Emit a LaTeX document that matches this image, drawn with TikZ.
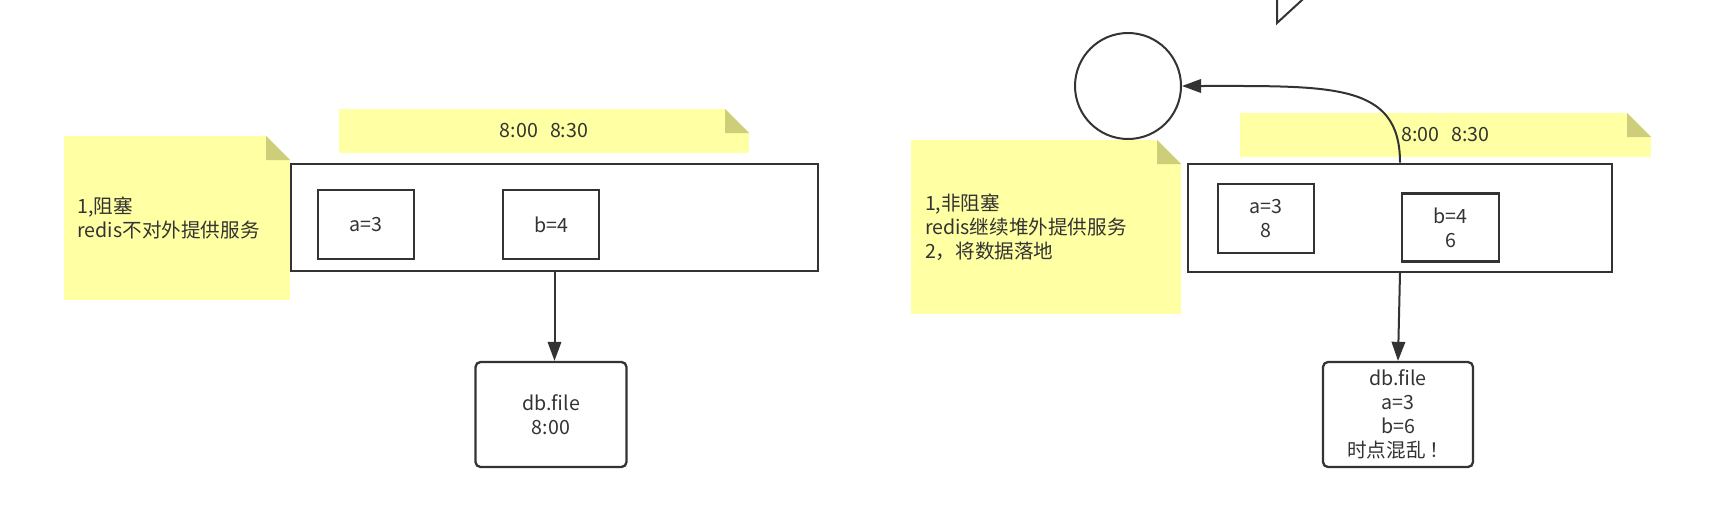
\documentclass[tikz,border=0pt]{standalone}
\usepackage{fontspec}
\setmainfont{Noto Sans CJK SC}
\usetikzlibrary{arrows.meta}
\definecolor{notey}{RGB}{255,255,163}
\definecolor{foldc}{RGB}{206,206,122}
\definecolor{ink}{RGB}{51,51,51}
\begin{document}
\begin{tikzpicture}[x=1pt,y=-1pt,
  every node/.style={font=\fontsize{19.6}{23.8}\selectfont, text=ink},
  note/.style={fill=notey, draw=none, inner sep=0pt,
    path picture={
      \fill[white] ([xshift=-24pt]path picture bounding box.north east) -- (path picture bounding box.north east) -- ([yshift=-24pt]path picture bounding box.north east) -- cycle;
      \fill[foldc] ([xshift=-24pt]path picture bounding box.north east) -- ([xshift=-24pt,yshift=-24pt]path picture bounding box.north east) -- ([yshift=-24pt]path picture bounding box.north east) -- cycle;
    }},
  sidenote/.style={note, align=left, inner xsep=14pt, inner ysep=0pt},
  frame/.style={draw=ink, line width=2.3pt, inner sep=0pt},
  cell/.style={draw=ink, line width=2.3pt, inner sep=0pt, align=center, minimum height=69pt},
  dbbox/.style={draw=ink, line width=2.3pt, inner sep=0pt, align=center, rounded corners=5pt, minimum width=150pt, minimum height=105pt},
  conn/.style={draw=ink, line width=2pt, -{Triangle[length=19pt,width=13.5pt]}}
]
\useasboundingbox (0,0) rectangle (1714,506);
\fill[white] (0,0) rectangle (1714,506);

% ---------- left diagram ----------
\node[sidenote, minimum width=226.5pt, minimum height=164pt, text width=198.5pt] (noteL) at (176.75,218) {1,阻塞\\redis不对外提供服务};
\node[note, minimum width=410pt, minimum height=44pt] (timeL) at (544,131) {8:00\hspace{12pt}8:30};
\node[frame, minimum width=527pt, minimum height=107pt] (boxL) at (554.5,217.5) {};
\node[cell, minimum width=96pt] (aL) at (366,224.5) {a=3};
\node[cell, minimum width=96pt] (bL) at (551,224.5) {b=4};
\node[dbbox, minimum width=151pt] (dbL) at (551,414.5) {db.file\\8:00};
\draw[conn] (boxL.south) -- (boxL.south |- dbL.north);

% ---------- right diagram ----------
\draw[ink, line width=2pt] (1277,-3) -- (1277,23) -- (1305.3,-3);
\node[draw=ink, line width=2pt, circle, minimum size=106pt, inner sep=0pt] (circ) at (1128,86) {};
\node[sidenote, minimum width=270pt, minimum height=174pt, text width=242pt] (noteR) at (1046,227) {1,非阻塞\\redis继续堆外提供服务\\2，将数据落地};
\node[note, minimum width=411pt, minimum height=44pt] (timeR) at (1445.5,135) {8:00\hspace{12pt}8:30};
\node[frame, minimum width=424pt, minimum height=108pt] (boxR) at (1400,217.75) {};
\node[cell, minimum width=96pt] (aR) at (1266,218.5) {a=3\\8};
\node[cell, minimum width=97pt, minimum height=68pt] (bR) at (1450.5,227.5) {b=4\\6};
\node[dbbox] (dbR) at (1398,414.5) {db.file\\a=3\\b=6\\时点混乱\,！};
\draw[conn] (boxR.south) -- (dbR.north);
\draw[conn] (boxR.north) .. controls +(0,-80) and +(150,0) .. (circ.east);
\end{tikzpicture}
\end{document}
